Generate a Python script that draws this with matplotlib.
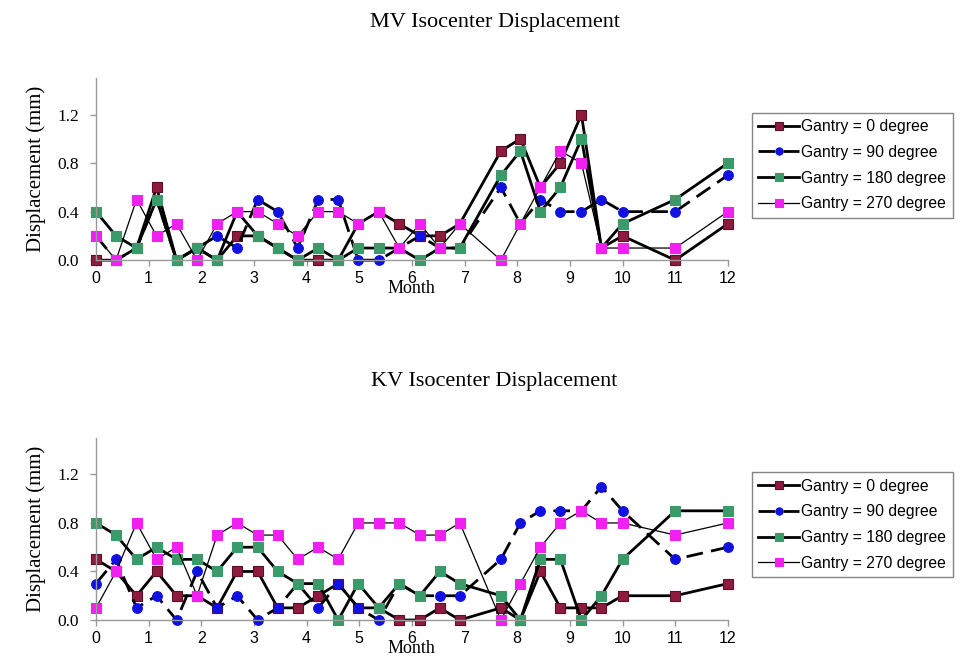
import matplotlib
matplotlib.use("Agg")
import matplotlib.pyplot as plt

# ---------------- data ----------------
months = [0, 0.38, 0.77, 1.15, 1.53, 1.92, 2.3, 2.68, 3.07, 3.45, 3.83, 4.22, 4.6, 4.98,
          5.37, 5.76, 6.15, 6.53, 6.91, 7.69, 8.06, 8.44, 8.82, 9.22, 9.6, 10.0, 11.0, 12.0]

series_labels = ["Gantry = 0 degree", "Gantry = 90 degree",
                 "Gantry = 180 degree", "Gantry = 270 degree"]

mv_g0 = [0.0, 0.0, 0.1, 0.6, 0.0, 0.1, 0.0, 0.2, 0.2, 0.1, 0.0, 0.0, 0.0, 0.3,
         0.4, 0.3, 0.2, 0.2, 0.3, 0.9, 1.0, 0.6, 0.8, 1.2, 0.1, 0.2, 0.0, 0.3]
mv_g90 = [0.2, 0.0, 0.1, 0.5, 0.0, 0.1, 0.2, 0.1, 0.5, 0.4, 0.1, 0.5, 0.5, 0.0,
          0.0, 0.1, 0.2, 0.1, 0.1, 0.6, 0.3, 0.5, 0.4, 0.4, 0.5, 0.4, 0.4, 0.7]
mv_g180 = [0.4, 0.2, 0.1, 0.5, 0.0, 0.1, 0.0, 0.4, 0.2, 0.1, 0.0, 0.1, 0.0, 0.1,
           0.1, 0.1, 0.0, 0.1, 0.1, 0.7, 0.9, 0.4, 0.6, 1.0, 0.1, 0.3, 0.5, 0.8]
mv_g270 = [0.2, 0.0, 0.5, 0.2, 0.3, 0.0, 0.3, 0.4, 0.4, 0.3, 0.2, 0.4, 0.4, 0.3,
           0.4, 0.1, 0.3, 0.1, 0.3, 0.0, 0.3, 0.6, 0.9, 0.8, 0.1, 0.1, 0.1, 0.4]

kv_g0 = [0.5, 0.4, 0.2, 0.4, 0.2, 0.2, 0.1, 0.4, 0.4, 0.1, 0.1, 0.2, 0.3, 0.1,
         0.1, 0.0, 0.0, 0.1, 0.0, 0.1, 0.0, 0.4, 0.1, 0.1, 0.1, 0.2, 0.2, 0.3]
kv_g90 = [0.3, 0.5, 0.1, 0.2, 0.0, 0.4, 0.1, 0.2, 0.0, 0.1, 0.3, 0.1, 0.3, 0.1,
          0.0, 0.3, 0.2, 0.2, 0.2, 0.5, 0.8, 0.9, 0.9, 0.9, 1.1, 0.9, 0.5, 0.6]
kv_g180 = [0.8, 0.7, 0.5, 0.6, 0.5, 0.5, 0.4, 0.6, 0.6, 0.4, 0.3, 0.3, 0.0, 0.3,
           0.1, 0.3, 0.2, 0.4, 0.3, 0.2, 0.0, 0.5, 0.5, 0.0, 0.2, 0.5, 0.9, 0.9]
kv_g270 = [0.1, 0.4, 0.8, 0.5, 0.6, 0.2, 0.7, 0.8, 0.7, 0.7, 0.5, 0.6, 0.5, 0.8,
           0.8, 0.8, 0.7, 0.7, 0.8, 0.0, 0.3, 0.6, 0.8, 0.9, 0.8, 0.8, 0.7, 0.8]

x_ticks = list(range(0, 13))
y_ticks = [0.0, 0.4, 0.8, 1.2]

# ---------------- style ----------------
plt.rcParams["font.family"] = ["Liberation Serif", "DejaVu Serif"]
SANS = ["Liberation Sans", "DejaVu Sans"]

styles = [
    dict(color="black", lw=2.0, ls="-", marker="s", ms=7.5, mfc="#8E1B3E", mec="#5a1026"),
    dict(color="black", lw=2.0, ls=(0, (6, 3)), marker="o", ms=7, mfc="#1010E0", mec="#1010E0"),
    dict(color="black", lw=2.0, ls="-", marker="s", ms=7.5, mfc="#3A9A6A", mec="#3A9A6A"),
    dict(color="black", lw=0.9, ls="-", marker="s", ms=7.5, mfc="#F020F0", mec="#F020F0"),
]

fig = plt.figure(figsize=(9.64, 6.57), dpi=100)

panels = [
    ("MV Isocenter Displacement", [mv_g0, mv_g90, mv_g180, mv_g270],
     [0.0996, 0.604, 0.6554, 0.277], 0.966, 0.828),
    ("KV Isocenter Displacement", [kv_g0, kv_g90, kv_g180, kv_g270],
     [0.0996, 0.0563, 0.6554, 0.277], 0.419, 0.281),
]

for title, data, rect, ty, ly in panels:
    ax = fig.add_axes(rect)
    handles = []
    for vals, st, lab in zip(data, styles, series_labels):
        h, = ax.plot(months, vals, color=st["color"], lw=st["lw"], ls=st["ls"],
                     marker=st["marker"], ms=st["ms"], mfc=st["mfc"], mec=st["mec"],
                     mew=0.8, label=lab, clip_on=False)
        handles.append(h)
    ax.set_xlim(0, 12)
    ax.set_ylim(0, 1.5)
    ax.set_xticks(x_ticks)
    ax.set_xticklabels([str(t) for t in x_ticks], fontfamily=SANS, fontsize=11.5)
    ax.set_yticks(y_ticks)
    ax.set_yticklabels([f"{t:.1f}" for t in y_ticks], fontsize=12.5)
    for s in ["top", "right"]:
        ax.spines[s].set_visible(False)
    for s in ["left", "bottom"]:
        ax.spines[s].set_color("#999999")
        ax.spines[s].set_linewidth(1.0)
    ax.tick_params(axis="both", colors="#999999", labelcolor="black", length=4, width=1)
    ax.tick_params(axis="x", pad=4)
    ax.tick_params(axis="y", pad=8)
    ax.set_ylabel("Displacement (mm)", fontsize=15, labelpad=8)
    ax.set_xlabel("Month", fontsize=13, labelpad=-4.5)
    fig.text(0.513, ty, title, ha="center", va="center", fontsize=16)
    leg = ax.legend(handles=handles, loc="upper left", bbox_to_anchor=(0.780, ly),
                    bbox_transform=fig.transFigure, frameon=True, fancybox=False,
                    edgecolor="#666666", prop={"family": SANS, "size": 11.3},
                    handlelength=2.6, handletextpad=0.15, labelspacing=0.68,
                    borderpad=0.4, borderaxespad=0, markerscale=0.75)
    leg.get_frame().set_linewidth(1.0)

fig.savefig("out.png", dpi=100)
